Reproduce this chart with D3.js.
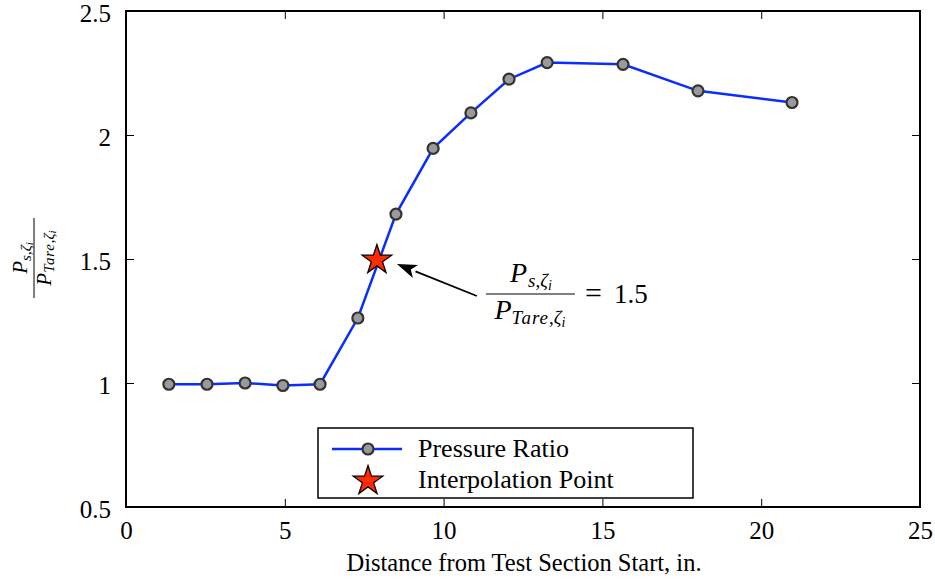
<!DOCTYPE html>
<html lang="en">
<head>
  <meta charset="UTF-8" />
  <title>Pressure Ratio</title>
  <style>
    body { margin: 0; background: #fff; }
    svg { display: block; font-family: "Liberation Serif", "Times New Roman", serif; }
  </style>
</head>
<body>
  <svg id="chart" width="935" height="581"></svg>
  <script src="https://d3js.org/d3.v7.min.js"></script>
  <script>
    // data
    const distance = [1.35, 2.55, 3.75, 4.94, 6.11, 7.30, 8.50, 9.67, 10.86, 12.06, 13.26, 15.65, 18.01, 20.97];
    const ratio = [0.995, 0.995, 1.0, 0.99, 0.995, 1.262, 1.681, 1.946, 2.089, 2.225, 2.292, 2.285, 2.178, 2.131];
    const interpPoint = [7.9, 1.5];
    const xTicks = [0, 5, 10, 15, 20, 25];
    const yTicks = [0.5, 1, 1.5, 2, 2.5];

    const margin = {top: 11, right: 15, bottom: 74, left: 126};
    const width = 935 - margin.left - margin.right;
    const height = 581 - margin.top - margin.bottom;
    const serif = "Liberation Serif, Times New Roman, serif";

    const svg = d3.select("#chart")
      .append("g")
      .attr("transform", `translate(${margin.left},${margin.top})`);

    const x = d3.scaleLinear().domain([0, 25]).range([0, width]);
    const y = d3.scaleLinear().domain([0.5, 2.5]).range([height, 0]);

    const tick = 8;
    const styleAxis = g => {
      g.attr("font-family", serif);
      g.select(".domain").remove();
      g.selectAll("line").attr("stroke", "#000").attr("stroke-width", 1);
      g.selectAll("text").attr("font-size", "25px").attr("fill", "#000");
    };

    svg.append("g").attr("transform", `translate(0,${height})`)
      .call(d3.axisBottom(x).tickValues(xTicks).tickSize(-tick).tickPadding(14).tickFormat(d3.format("d")))
      .call(styleAxis);
    svg.append("g")
      .call(d3.axisTop(x).tickValues(xTicks).tickSize(-tick).tickFormat(""))
      .call(styleAxis);
    svg.append("g")
      .call(d3.axisLeft(y).tickValues(yTicks).tickSize(-tick).tickPadding(15).tickFormat(d => d))
      .call(styleAxis)
      .selectAll("text").attr("dy", "0.42em");
    svg.append("g").attr("transform", `translate(${width},0)`)
      .call(d3.axisRight(y).tickValues(yTicks).tickSize(-tick).tickFormat(""))
      .call(styleAxis);

    svg.append("rect")
      .attr("width", width).attr("height", height)
      .attr("fill", "none").attr("stroke", "#000").attr("stroke-width", 2);

    const pts = distance.map((d, i) => ({x: d, y: ratio[i]}));

    svg.append("path")
      .datum(pts)
      .attr("fill", "none")
      .attr("stroke", "#0a2dff")
      .attr("stroke-width", 2.5)
      .attr("d", d3.line().x(d => x(d.x)).y(d => y(d.y)));

    svg.selectAll(".pt")
      .data(pts)
      .join("circle")
      .attr("class", "pt")
      .attr("cx", d => x(d.x))
      .attr("cy", d => y(d.y))
      .attr("r", 5.5)
      .attr("fill", "#9a9a9a")
      .attr("stroke", "#333")
      .attr("stroke-width", 2.2);

    const star = d3.symbol().type(d3.symbolStar).size(270);
    svg.append("path")
      .attr("d", star())
      .attr("transform", `translate(${x(interpPoint[0])},${y(interpPoint[1]) + 1})`)
      .attr("fill", "#ff2a00")
      .attr("stroke", "#000")
      .attr("stroke-width", 1.3);

    // arrow annotation
    const sx = x(interpPoint[0]), sy = y(interpPoint[1]);
    const tail = [sx + 100, sy + 37];
    const tip = [sx + 20, sy + 5];
    const headLen = 20, angle = Math.atan2(tip[1] - tail[1], tip[0] - tail[0]);
    const base = [tip[0] - headLen * Math.cos(angle), tip[1] - headLen * Math.sin(angle)];
    svg.append("line")
      .attr("x1", tail[0]).attr("y1", tail[1])
      .attr("x2", base[0]).attr("y2", base[1])
      .attr("stroke", "#000").attr("stroke-width", 1.8);
    const nx = -Math.sin(angle), ny = Math.cos(angle);
    svg.append("path")
      .attr("d", `M${tip[0]},${tip[1]} L${base[0] + nx * 7},${base[1] + ny * 7} L${base[0] + headLen * 0.25 * Math.cos(angle)},${base[1] + headLen * 0.25 * Math.sin(angle)} L${base[0] - nx * 7},${base[1] - ny * 7} Z`)
      .attr("fill", "#000");

    // fraction label
    const fx = sx + 109, fy = sy + 35;
    const frac = svg.append("g").attr("transform", `translate(${fx},${fy})`);
    const num = frac.append("text").attr("x", 45).attr("y", -12).attr("text-anchor", "middle").attr("font-size", 28);
    num.append("tspan").attr("font-style", "italic").text("P");
    num.append("tspan").attr("font-size", 19).attr("dy", 5).attr("dx", 1).attr("font-style", "italic").text("s");
    num.append("tspan").attr("font-size", 19).text(",");
    num.append("tspan").attr("font-size", 19).attr("font-style", "italic").text("ζ");
    num.append("tspan").attr("font-size", 14).attr("dy", 3).attr("font-style", "italic").text("i");
    frac.append("line").attr("x1", 0).attr("x2", 89).attr("y1", 0).attr("y2", 0)
      .attr("stroke", "#000").attr("stroke-width", 1.2);
    const den = frac.append("text").attr("x", 44).attr("y", 25).attr("text-anchor", "middle").attr("font-size", 28);
    den.append("tspan").attr("font-style", "italic").text("P");
    den.append("tspan").attr("font-size", 19).attr("dy", 5).attr("font-style", "italic").attr("letter-spacing", 1).text("Tare");
    den.append("tspan").attr("font-size", 19).text(",");
    den.append("tspan").attr("font-size", 19).attr("font-style", "italic").text("ζ");
    den.append("tspan").attr("font-size", 14).attr("dy", 3).attr("font-style", "italic").text("i");
    frac.append("text").attr("x", 99).attr("y", 9).attr("font-size", 30).text("=");
    frac.append("text").attr("x", 128).attr("y", 9).attr("font-size", 27).text("1.5");

    // y-axis label (rotated fraction)
    const yl = svg.append("g").attr("transform", `translate(${34 - margin.left},${258 - margin.top}) rotate(-90)`);
    const yn = yl.append("text").attr("x", 0).attr("y", -7).attr("text-anchor", "middle").attr("font-size", 21);
    yn.append("tspan").attr("font-style", "italic").text("P");
    yn.append("tspan").attr("font-size", 15).attr("dy", 4).attr("font-style", "italic").text("s");
    yn.append("tspan").attr("font-size", 15).text(",");
    yn.append("tspan").attr("font-size", 15).attr("font-style", "italic").text("ζ");
    yn.append("tspan").attr("font-size", 11).attr("dy", 2).attr("font-style", "italic").text("i");
    yl.append("line").attr("x1", -40).attr("x2", 40).attr("y1", 0).attr("y2", 0)
      .attr("stroke", "#000").attr("stroke-width", 1);
    const yd = yl.append("text").attr("x", 0).attr("y", 17).attr("text-anchor", "middle").attr("font-size", 21);
    yd.append("tspan").attr("font-style", "italic").text("P");
    yd.append("tspan").attr("font-size", 15).attr("dy", 3).attr("font-style", "italic").attr("letter-spacing", 0.8).text("Tare");
    yd.append("tspan").attr("font-size", 15).text(",");
    yd.append("tspan").attr("font-size", 15).attr("font-style", "italic").text("ζ");
    yd.append("tspan").attr("font-size", 11).attr("dy", 2).attr("font-style", "italic").text("i");

    // x-axis label
    svg.append("text")
      .attr("x", width / 2 + 1)
      .attr("y", height + 64)
      .attr("text-anchor", "middle")
      .attr("font-size", 24.5)
      .text("Distance from Test Section Start, in.");

    // legend
    const lg = svg.append("g").attr("transform", `translate(${318 - margin.left},${428 - margin.top})`);
    lg.append("rect").attr("width", 375).attr("height", 70)
      .attr("fill", "#fff").attr("stroke", "#000").attr("stroke-width", 1.5);
    lg.append("line").attr("x1", 14).attr("x2", 84).attr("y1", 21).attr("y2", 21)
      .attr("stroke", "#0a2dff").attr("stroke-width", 2.5);
    lg.append("circle").attr("cx", 50).attr("cy", 21).attr("r", 5.5)
      .attr("fill", "#9a9a9a").attr("stroke", "#333").attr("stroke-width", 2.2);
    lg.append("path").attr("d", star()).attr("transform", "translate(50,53)")
      .attr("fill", "#ff2a00").attr("stroke", "#000").attr("stroke-width", 1.3);
    lg.append("text").attr("x", 100).attr("y", 29).attr("font-size", 26).text("Pressure Ratio");
    lg.append("text").attr("x", 100).attr("y", 60).attr("font-size", 26).text("Interpolation Point");
  </script>
</body>
</html>
